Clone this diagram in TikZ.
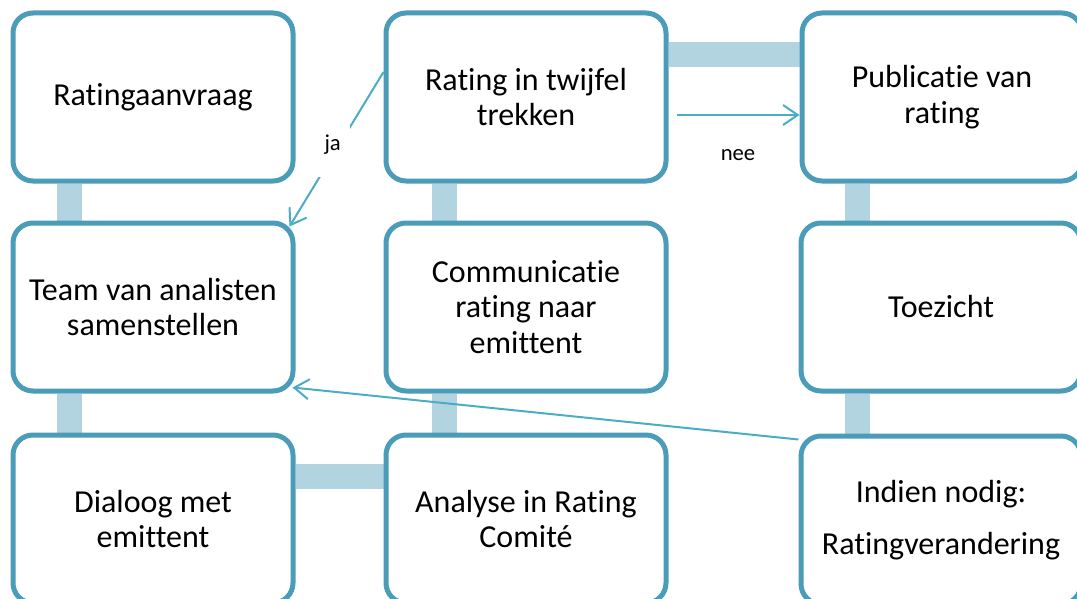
\documentclass[tikz,border=0pt]{standalone}
\usepackage{fontspec}
\setmainfont{Carlito}[Ligatures={NoCommon}]
\usepackage{tikz}
\usetikzlibrary{arrows.meta,positioning,backgrounds}
\definecolor{boxline}{HTML}{4A9CB8}
\definecolor{barblue}{HTML}{B1D4E0}
\definecolor{flowblue}{HTML}{4BACC6}

\begin{document}
\begin{tikzpicture}[x=0.75pt, y=-0.75pt,
  stage/.style={draw=boxline, line width=3.75pt, rounded corners=15pt, fill=white,
    minimum width=210pt, minimum height=126pt, align=center, inner sep=0pt,
    font=\fontsize{24}{26.5}\selectfont},
  linkbar/.style={draw=barblue, line width=18.75pt},
  flow/.style={draw=flowblue, line width=1.5pt, -{Straight Barb[length=11pt,width=15pt]}},
  tag/.style={font=\fontsize{17}{20}\selectfont, inner sep=0pt}
]
\useasboundingbox (0,0) rectangle (1077,599);

% top row
\node[stage] (aanvraag) at (153,97) {Ratingaanvraag};
\node[stage] (twijfel) at (526,97) {Rating in twijfel\\trekken};
\node[stage] (publicatie) at (942,97) {Publicatie van\\rating};
% middle row
\node[stage] (team) at (153,307) {Team van analisten\\samenstellen};
\node[stage] (communicatie) at (526,307) {Communicatie\\rating naar\\emittent};
\node[stage] (toezicht) at (941,307) {Toezicht};
% bottom row
\node[stage] (dialoog) at (153,519) {Dialoog met\\emittent};
\node[stage] (comite) at (526,519) {Analyse in Rating\\Comité};
\node[stage] (indien) at (941,520) {Indien nodig:\\[12pt]Ratingverandering};

% thick links behind the boxes
\begin{scope}[on background layer]
  \draw[linkbar] ([xshift=-63pt]aanvraag.south) -- ([xshift=-63pt]team.north);
  \draw[linkbar] ([xshift=-63pt]team.south) -- ([xshift=-63pt]dialoog.north);
  \draw[linkbar] ([xshift=-61.5pt]twijfel.south) -- ([xshift=-61.5pt]communicatie.north);
  \draw[linkbar] ([xshift=-61.5pt]communicatie.south) -- ([xshift=-61.5pt]comite.north);
  \draw[linkbar] ([xshift=-63.75pt]publicatie.south) -- ([xshift=-63pt]toezicht.north);
  \draw[linkbar] ([xshift=-63pt]toezicht.south) -- ([xshift=-63pt]indien.north);
  \draw[linkbar] ([yshift=31.5pt]twijfel.east) -- ([yshift=31.5pt]publicatie.west);
  \draw[linkbar] ([yshift=32.25pt]dialoog.east) -- ([yshift=32.25pt]comite.west);
\end{scope}

% decision arrows
\draw[flow] ([yshift=18.75pt]twijfel.west) --
  node[tag, pos=0.47, xshift=-5pt, fill=white, minimum width=26pt, minimum height=48pt] {ja}
  ([shift={(-4.5pt,-4.5pt)}]team.north east);
\draw[flow] ([shift={(6pt,-13.5pt)}]twijfel.east) --
  node[tag, yshift=-30pt] {nee} ([yshift=-13.5pt]publicatie.west);
\draw[flow] ([yshift=-4.5pt]indien.north west) -- ([shift={(-2.25pt,4.5pt)}]team.south east);
\end{tikzpicture}
\end{document}
